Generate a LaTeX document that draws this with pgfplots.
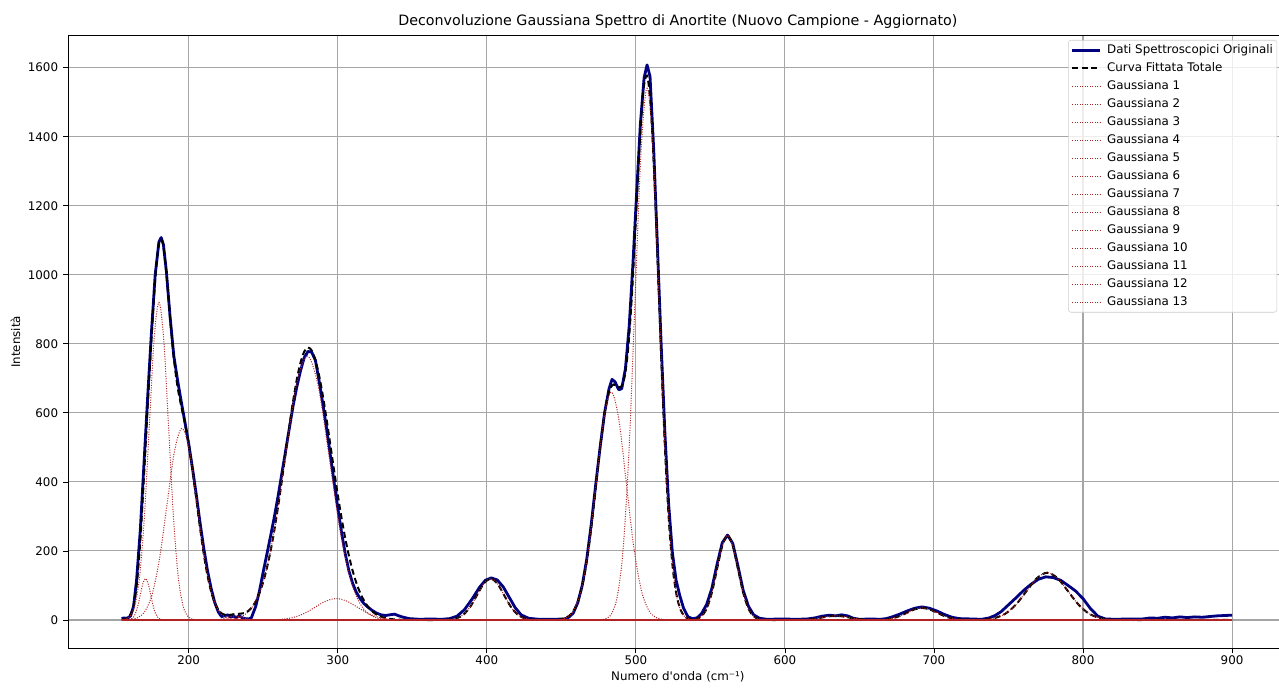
\documentclass[border=0pt]{standalone}
\usepackage{fontspec}
\setmainfont{DejaVu Sans}
\usepackage{pgfplots}
\pgfplotsset{compat=1.18}
\definecolor{navyc}{HTML}{000080}
\definecolor{gred}{HTML}{B22222}
\begin{document}
\begin{tikzpicture}
\useasboundingbox (0,0) rectangle (959.25pt,515.25pt);
\begin{axis}[
  at={(51.225pt,29.025pt)}, anchor=south west,
  scale only axis, width=914.4pt, height=459.45pt,
  xmin=119.2, xmax=937.2, ymin=-82, ymax=1692.6,
  xtick={200,300,...,900}, ytick={0,200,...,1600},
  tick pos=left, tick align=outside, major tick length=3.75pt,
  tick style={black, line width=0.6pt},
  grid=major, grid style={color=gray!70, line width=0.8pt},
  axis line style={black, line width=0.9pt},
  /pgf/number format/assume math mode=true,
  /pgf/number format/1000 sep={},
  tick label style={font=\fontsize{8.9}{10}\selectfont},
  xticklabel style={anchor=north, inner sep=0pt, yshift=-1.3pt},
  yticklabel style={anchor=east, inner sep=0pt, xshift=-3.7pt},
  title={Deconvoluzione Gaussiana Spettro di Anortite (Nuovo Campione - Aggiornato)},
  every axis title/.style={at={(axis description cs:0.5,1)}, anchor=base, yshift=7.3pt, font=\fontsize{10.7}{12}\selectfont},
  xlabel={Numero d\textquotesingle{}onda (cm⁻¹)},
  every axis x label/.style={at={(axis description cs:0.5,0)}, anchor=base, yshift=-23.8pt, font=\fontsize{8.9}{10}\selectfont},
  ylabel={Intensità},
  every axis y label/.style={at={(axis description cs:-0.0396,0.5)}, rotate=90, anchor=base, font=\fontsize{8.9}{10}\selectfont},
  legend style={at={(0.820,0.993)}, anchor=north west, draw=gray!40, rounded corners=2pt, fill=white, fill opacity=0.8, draw opacity=1, text opacity=1, font=\fontsize{8.9}{10}\selectfont, nodes={inner sep=1pt, text height=7pt, text depth=2pt}, row sep=2.5pt, inner sep=2pt, legend cell align=left, /tikz/every odd column/.append style={column sep=3pt}},
  legend image code/.code={\draw[#1] (0pt,0pt) -- (21pt,0pt);},
  gst/.style={color=gred, line width=0.75pt, dash pattern=on 0.75pt off 1.1pt, smooth, tension=0.55},
  legend entries={Dati Spettroscopici Originali, Curva Fittata Totale, Gaussiana 1, Gaussiana 2, Gaussiana 3, Gaussiana 4, Gaussiana 5, Gaussiana 6, Gaussiana 7, Gaussiana 8, Gaussiana 9, Gaussiana 10, Gaussiana 11, Gaussiana 12, Gaussiana 13},
]
% original data
\addplot[color=navyc, line width=2.1pt, line join=round] coordinates {
(155,4) (156.5,6) (158,5) (159.5,7) (161,12) (163,40) (165,115) (167.5,260) (170,455) (172.5,650) (175,835) (177.5,1000) (180,1095) (181.5,1108) (183,1088) (185,1010) (187.5,878) (190,765) (192.5,695) (195,632) (197.5,572) (200,510) (202.5,440) (205,365) (207.5,285) (210,210) (212.5,145) (215,92) (217.5,50) (220,22) (222,10) (224,12) (226,15) (228,9) (230,11) (232,7) (234,12) (236,6) (238,4) (240,3) (242,6) (245,40) (247.5,85) (250,140) (252.5,192) (255,245) (257.5,300) (260,360) (262.5,425) (265,490) (267.5,555) (270,620) (272.5,675) (275,722) (277.5,760) (280,778) (282.5,776) (285,752) (287.5,692) (290,625) (292.5,555) (295,478) (297.5,400) (300,325) (302.5,255) (305,192) (307.5,142) (310,106) (312.5,80) (315,62) (317.5,48) (320,38) (323,28) (326,20) (329,15) (332,13) (335,15) (338,17) (341,12) (344,8) (348,4) (355,2) (362,3) (370,2) (375,4) (380,11) (385,30) (390,60) (395,94) (399,115) (403,122) (407,116) (411,96) (415,66) (419,36) (423,15) (428,5) (435,2) (445,2) (452,3) (455,8) (458,20) (461,50) (464,100) (467,175) (470,275) (473,390) (476,500) (479,600) (482,670) (484,697) (486,690) (488.5,667) (490.5,670) (493,728) (495.5,850) (498,1030) (500.5,1235) (503,1435) (505.5,1570) (507.5,1608) (509.5,1575) (512,1360) (514.5,1080) (517,795) (519.5,540) (522,335) (524.5,195) (527,115) (529.5,70) (532,34) (535,9) (538,4) (541,6) (544,18) (547.5,45) (551,92) (554.5,162) (558,224) (561.5,246) (565,222) (568.5,156) (572,86) (575.5,40) (579,15) (583,5) (588,2) (598,3) (608,2) (615,3) (620,6) (625,11) (630,14) (634,12) (638,15) (642,12) (646,5) (650,2) (658,3) (664,2) (668,4) (672,9) (677,17) (682,26) (687,34) (692,38) (697,34) (702,26) (707,16) (712,8) (717,4) (725,3) (732,2) (737,6) (741,13) (745,24) (750,44) (755,64) (760,85) (765,103) (770,118) (775,125) (780,123) (785,115) (790,100) (795,84) (800,62) (805,33) (810,11) (815,3) (822,2) (830,3) (840,3) (845,6) (850,5) (855,8) (860,6) (865,9) (870,7) (875,9) (880,8) (885,10) (890,12) (895,13) (900,14)
};
% total fit
\addplot[black, line width=1.5pt, dash pattern=on 4.5pt off 2.6pt, smooth, tension=0.5] coordinates {
(155,0.7) (157.5,2.7) (160,10.0) (162.5,33.2) (165,97.1) (167.5,228.6) (170,418.5) (172.5,621.9) (175,814.8) (177.5,985.7) (180,1091.5) (182.5,1093.3) (185,1004.3) (187.5,876.0) (190,759.0) (192.5,675.4) (195,618.8) (197.5,568.5) (200,509.5) (202.5,436.8) (205,354.0) (207.5,270.3) (210,194.0) (212.5,130.8) (215,83.0) (217.5,49.6) (220,28.7) (222.5,17.9) (225,14.0) (227.5,14.6) (230,16.6) (232.5,17.8) (235,18.3) (237.5,20.4) (240,26.3) (242.5,37.4) (245,54.6) (247.5,78.7) (250,110.8) (252.5,151.7) (255,201.9) (257.5,261.8) (260,329.9) (262.5,404.6) (265,482.9) (267.5,560.4) (270,633.3) (272.5,696.5) (275,745.7) (277.5,777.3) (280,789.3) (282.5,780.8) (285,752.9) (287.5,707.9) (290,649.2) (292.5,581.2) (295,508.0) (297.5,434.0) (300,362.5) (302.5,296.2) (305,236.9) (307.5,185.6) (310,142.3) (312.5,106.9) (315,78.8) (317.5,56.8) (320,40.1) (322.5,27.8) (325,18.7) (327.5,12.4) (330,8.0) (335,3.1) (340,1.1) (345,0.3) (350,0.1) (358,0) (365,0) (371,0.26) (375.5,1.33) (380,5.27) (384.5,16.24) (389,38.96) (393.5,72.78) (398,105.9) (402.5,120) (407,105.9) (411.5,72.78) (416,38.96) (420.5,16.24) (425,5.27) (429.5,1.33) (434,0.26) (440,0.1) (445,0.4) (450,2.4) (455,11.4) (457.5,22.5) (460,41.8) (462.5,72.8) (465,119.3) (467.5,183.5) (470,265.4) (472.5,360.5) (475,460.3) (477.5,552.7) (480,625.0) (482.5,668.4) (485,682.1) (487.5,677.0) (490,675.2) (492.5,705.7) (495,795.2) (497.5,953.0) (500,1161.6) (502.5,1375.5) (505,1532.4) (507.5,1577.0) (510,1486.6) (512.5,1276.8) (515,997.0) (517.5,707.4) (520,455.2) (522.5,265.5) (525,140.8) (527.5,67.7) (530,29.5) (532.5,11.7) (535,4.2) (537.5,1.9) (540.5,2.8) (544,10.8) (547.5,33.1) (551,79.6) (554.5,148.6) (558,216.2) (561.5,245) (565,216.2) (568.5,148.6) (572,79.6) (575.5,33.1) (579,10.8) (582.5,2.7) (586,0.5) (590,0) (595,0) (602.5,0.03) (607,0.13) (611.5,0.53) (616,1.62) (620.5,3.9) (625,7.28) (629.5,10.59) (634,12) (638.5,10.59) (643,7.28) (647.5,3.9) (652,1.62) (656.5,0.53) (661,0.2) (667,1.54) (672,4.74) (677,11.36) (682,21.2) (687,30.9) (692,35) (697,30.9) (702,21.2) (707,11.36) (712,4.74) (717,1.54) (722,0.39) (727,0.38) (734,1.52) (741,6.01) (748,18.5) (755,44.5) (762,83.1) (769,120.9) (776,137) (783,120.9) (790,83.1) (797,44.5) (804,18.5) (811,6.01) (818,1.52) (825,0.3) (832,0) (845,0) (870,0) (900,0)
};
% common zero baseline of the components
\addplot[color=gred, line width=1.2pt, forget plot] coordinates {(155,0) (900,0)};
% Gaussian components
\addplot[gst] coordinates {(155,0) (157,0) (158.75,0.26) (160.5,1.33) (162.25,5.27) (164,16.24) (165.75,38.96) (167.5,72.78) (169.25,105.9) (171,120) (172.75,105.9) (174.5,72.78) (176.25,38.96) (178,16.24) (179.75,5.27) (181.5,1.33) (183.25,0.26) (185,0) (186.75,0)};
\addplot[gst] coordinates {(155,0) (157.25,2.02) (160.5,10.21) (163.75,40.4) (167,124.5) (170.25,298.7) (173.5,558.0) (176.75,811.9) (180,920) (183.25,811.9) (186.5,558.0) (189.75,298.7) (193,124.5) (196.25,40.4) (199.5,10.21) (202.75,2.02) (206,0) (209.25,0)};
\addplot[gst] coordinates {(155.5,0) (160.5,1.22) (165.5,6.16) (170.5,24.4) (175.5,75.1) (180.5,180.2) (185.5,336.6) (190.5,489.8) (195.5,555) (200.5,489.8) (205.5,336.6) (210.5,180.2) (215.5,75.1) (220.5,24.4) (225.5,6.16) (230.5,1.22) (235.5,0) (240.5,0)};
\addplot[gst] coordinates {(208.5,0) (211,0) (213.5,0.03) (216,0.13) (218.5,0.53) (221,1.62) (223.5,3.9) (226,7.28) (228.5,10.59) (231,12) (233.5,10.59) (236,7.28) (238.5,3.9) (241,1.62) (243.5,0.53) (246,0.13) (248.5,0.03) (251,0) (253.5,0)};
\addplot[gst] coordinates {(212,0) (219.5,0) (227,1.68) (234.5,8.49) (242,33.6) (249.5,103.5) (257,248.4) (264.5,464) (272,675.1) (279.5,765) (287,675.1) (294.5,464) (302,248.4) (309.5,103.5) (317,33.6) (324.5,8.49) (332,1.68) (339.5,0) (347,0)};
\addplot[gst] coordinates {(236,0) (243,0) (250,0.14) (257,0.69) (264,2.72) (271,8.39) (278,20.1) (285,37.6) (292,54.7) (299,62) (306,54.7) (313,37.6) (320,20.1) (327,8.39) (334,2.72) (341,0.69) (348,0.14) (355,0) (362,0)};
\addplot[gst] coordinates {(362,0) (366.5,0) (371,0.26) (375.5,1.33) (380,5.27) (384.5,16.24) (389,38.96) (393.5,72.78) (398,105.9) (402.5,120) (407,105.9) (411.5,72.78) (416,38.96) (420.5,16.24) (425,5.27) (429.5,1.33) (434,0.26) (438.5,0) (443,0)};
\addplot[gst] coordinates {(438.5,0) (443.5,0) (448.5,1.45) (453.5,7.33) (458.5,29.0) (463.5,89.3) (468.5,214.3) (473.5,400.3) (478.5,582.5) (483.5,660) (488.5,582.5) (493.5,400.3) (498.5,214.3) (503.5,89.3) (508.5,29.0) (513.5,7.33) (518.5,1.45) (523.5,0) (528.5,0)};
\addplot[gst] coordinates {(471.5,0) (475.5,0) (479.5,3.39) (483.5,17.1) (487.5,67.6) (491.5,208.4) (495.5,500.0) (499.5,934.0) (503.5,1359.1) (507.5,1540) (511.5,1359.1) (515.5,934.0) (519.5,500.0) (523.5,208.4) (527.5,67.6) (531.5,17.1) (535.5,3.39) (539.5,0) (543.5,0)};
\addplot[gst] coordinates {(530,0) (533.5,0) (537,0.54) (540.5,2.72) (544,10.76) (547.5,33.1) (551,79.6) (554.5,148.6) (558,216.2) (561.5,245) (565,216.2) (568.5,148.6) (572,79.6) (575.5,33.1) (579,10.76) (582.5,2.72) (586,0.54) (589.5,0) (593,0)};
\addplot[gst] coordinates {(593.5,0) (598,0) (602.5,0.03) (607,0.13) (611.5,0.53) (616,1.62) (620.5,3.9) (625,7.28) (629.5,10.59) (634,12) (638.5,10.59) (643,7.28) (647.5,3.9) (652,1.62) (656.5,0.53) (661,0.13) (665.5,0.03) (670,0) (674.5,0)};
\addplot[gst] coordinates {(647,0) (652,0) (657,0.08) (662,0.39) (667,1.54) (672,4.74) (677,11.36) (682,21.2) (687,30.9) (692,35) (697,30.9) (702,21.2) (707,11.36) (712,4.74) (717,1.54) (722,0.39) (727,0.08) (732,0) (737,0)};
\addplot[gst] coordinates {(713,0) (720,0) (727,0.3) (734,1.52) (741,6.01) (748,18.5) (755,44.5) (762,83.1) (769,120.9) (776,137) (783,120.9) (790,83.1) (797,44.5) (804,18.5) (811,6.01) (818,1.52) (825,0.3) (832,0) (839,0)};
\end{axis}
\end{tikzpicture}
\end{document}
